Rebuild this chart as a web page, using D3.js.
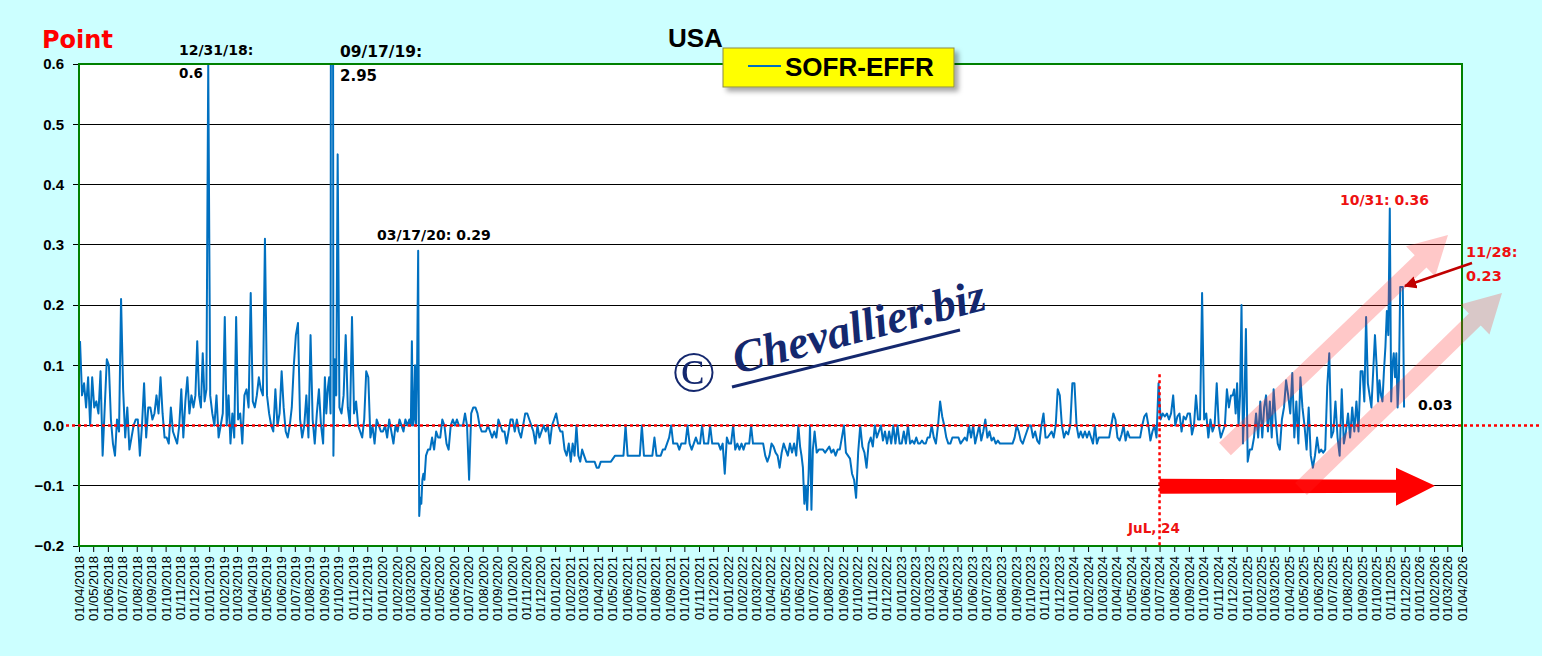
<!DOCTYPE html>
<html><head><meta charset="utf-8">
<script src="https://cdn.jsdelivr.net/npm/d3@7"></script>
<style>html,body{margin:0;padding:0;background:#ccffff;}svg{display:block}</style>
</head><body>
<svg id="c" width="1542" height="656"></svg>
<script>
// ---------------- DATA ----------------
const seriesName = "SOFR-EFFR";
const chartTitle = "USA";
const yUnit = "Point";
const yTicks = [-0.2, -0.1, 0.0, 0.1, 0.2, 0.3, 0.4, 0.5, 0.6];
const xStart = "2018-04-01", xEnd = "2026-04-01";   // monthly tick labels 01/04/2018 ... 01/04/2026
const markerDate = "2024-07-01";
// SOFR-EFFR readings (points), samples spread through each month
const sofrEffrByMonth = [
["2018-04",[0.14,0.05,0.07,0.03,0.08,0.00,0.08]],
["2018-05",[0.03,0.04,0.02,0.09,-0.05,0.03,0.11]],
["2018-06",[0.10,0.01,-0.03,-0.05,0.01,-0.01,0.21]],
["2018-07",[0.06,-0.02,0.03,-0.04,-0.02,0.0,0.01]],
["2018-08",[0.01,-0.05,0.0,0.07,-0.02,0.03,0.03]],
["2018-09",[0.01,0.02,0.05,0.02,0.08,0.02,-0.02]],
["2018-10",[-0.02,-0.03,0.03,-0.01,-0.02,-0.03,0.0]],
["2018-11",[0.06,-0.02,0.04,0.08,0.02,0.05,0.03]],
["2018-12",[0.05,0.14,0.05,0.03,0.12,0.04,0.06,0.6]],
["2019-01",[0.05,0.02,0.0,0.05,-0.02,0.0,0.02]],
["2019-02",[0.18,0.0,0.05,-0.03,0.02,-0.02,0.18]],
["2019-03",[0.01,0.02,-0.03,0.05,0.06,0.03,0.22]],
["2019-04",[0.04,0.03,0.05,0.08,0.06,0.05,0.31]],
["2019-05",[0.05,0.02,0.0,-0.01,0.06,0.0,0.02]],
["2019-06",[0.09,0.03,-0.01,-0.02,0.0,0.03,0.10]],
["2019-07",[0.15,0.17,0.01,-0.02,0.0,0.05,-0.02]],
["2019-08",[0.15,0.01,-0.03,0.02,0.06,0.0,-0.03]],
["2019-09",[0.08,0.02,0.06,0.08,0.02,2.95,-0.05,0.11,0.05,0.45]],
["2019-10",[0.03,0.02,0.05,0.15,0.03,0.0,0.18]],
["2019-11",[0.02,0.04,0.0,-0.01,-0.02,0.01,0.09]],
["2019-12",[0.08,-0.02,0.0,-0.03,0.01,0.0,-0.01]],
["2020-01",[-0.01,0.0,-0.02,0.01,-0.01,-0.03,0.0]],
["2020-02",[-0.01,0.01,0.0,-0.01,0.01,0.0,0.01]],
["2020-03",[0.0,0.14,0.0,0.01,0.1,0.0,0.1,0.29,-0.15,-0.12,-0.13,-0.09,-0.08,-0.09]],
["2020-04",[-0.05,-0.04,-0.04,-0.02,-0.04,-0.01,-0.02]],
["2020-05",[-0.02,0.01,0.0,-0.03,-0.04,0.0,0.01]],
["2020-06",[0.0,0.01,0.0,0.0,0.0,0.02,0.0]],
["2020-07",[-0.09,0.02,0.03,0.03,0.02,0.0,-0.01]],
["2020-08",[-0.01,-0.01,0.0,-0.01,-0.02,-0.01,-0.02]],
["2020-09",[0.01,0.0,-0.01,-0.01,-0.03,-0.01,0.01]],
["2020-10",[0.01,-0.01,0.01,-0.01,-0.02,0.0,0.02]],
["2020-11",[0.02,0.01,0.0,-0.01,-0.03,0.0,-0.02]],
["2020-12",[-0.01,0.0,-0.01,0.0,-0.03,0.0,0.01]],
["2021-01",[0.02,0.0,-0.01,-0.01,-0.04,-0.05,-0.03]],
["2021-02",[-0.06,-0.03,-0.05,0.0,-0.05,-0.06,-0.04]],
["2021-03",[-0.05,-0.06,-0.06,-0.06,-0.06,-0.06,-0.07]],
["2021-04",[-0.07,-0.06,-0.06,-0.06,-0.06,-0.06,-0.06]],
["2021-05",[-0.055,-0.05,-0.05,-0.05,-0.05,-0.05,0.0]],
["2021-06",[-0.05,-0.05,-0.05,-0.05,-0.05,-0.05,-0.05]],
["2021-07",[0.0,-0.05,-0.05,-0.05,-0.05,-0.05,-0.02]],
["2021-08",[-0.05,-0.05,-0.05,-0.04,-0.04,-0.03,-0.02]],
["2021-09",[0.0,-0.03,-0.03,-0.03,-0.04,-0.03,-0.03]],
["2021-10",[-0.03,0.0,-0.03,-0.04,-0.03,-0.02,-0.03]],
["2021-11",[-0.03,0.0,-0.03,-0.03,-0.03,0.0,-0.03]],
["2021-12",[-0.03,-0.03,-0.03,-0.04,-0.03,-0.08,-0.02]],
["2022-01",[-0.03,-0.03,0.0,-0.04,-0.03,-0.04,-0.03]],
["2022-02",[-0.04,-0.03,-0.03,-0.03,0.0,-0.03,-0.03]],
["2022-03",[-0.03,-0.03,-0.03,-0.03,-0.05,-0.06,-0.05]],
["2022-04",[-0.03,-0.035,-0.045,-0.05,-0.07,-0.045,-0.03]],
["2022-05",[-0.04,-0.05,-0.03,-0.045,-0.03,-0.05,0.0]],
["2022-06",[-0.035,-0.05,-0.07,-0.13,-0.10,-0.14,-0.08,0.0,-0.14,-0.04]],
["2022-07",[-0.01,-0.045,-0.04,-0.04,-0.04,-0.045,-0.04]],
["2022-08",[-0.035,-0.045,-0.04,-0.05,-0.04,-0.04,-0.02]],
["2022-09",[0.0,-0.045,-0.05,-0.055,-0.08,-0.09,-0.12]],
["2022-10",[-0.045,0.0,-0.035,-0.045,-0.07,-0.03,-0.02]],
["2022-11",[-0.035,0.0,-0.02,-0.01,0.0,-0.025,-0.01]],
["2022-12",[-0.03,-0.01,-0.03,0.0,-0.03,0.0,-0.03]],
["2023-01",[-0.03,-0.01,-0.03,0.0,-0.03,-0.025,-0.03]],
["2023-02",[-0.02,-0.03,-0.03,-0.025,-0.03,-0.03,-0.02]],
["2023-03",[-0.02,0.0,-0.02,-0.03,0.0,0.04,0.015]],
["2023-04",[0.0,-0.02,-0.03,-0.03,-0.02,-0.02,-0.02]],
["2023-05",[-0.02,-0.03,-0.025,-0.02,-0.025,0.0,-0.02]],
["2023-06",[0.0,-0.03,-0.015,0.0,-0.025,-0.01,0.01]],
["2023-07",[-0.02,-0.01,-0.025,-0.02,-0.03,-0.025,-0.03]],
["2023-08",[-0.03,-0.03,-0.03,-0.03,-0.03,-0.03,-0.02]],
["2023-09",[0.0,-0.01,-0.025,-0.03,-0.02,-0.01,0.0]],
["2023-10",[0.0,-0.02,-0.01,-0.025,-0.03,0.0,0.02]],
["2023-11",[-0.02,-0.02,-0.015,-0.01,-0.02,0.0,0.06]],
["2023-12",[0.05,0.0,-0.02,-0.01,-0.015,0.0,0.07]],
["2024-01",[0.07,0.0,-0.02,-0.01,-0.02,-0.01,-0.02]],
["2024-02",[-0.01,-0.02,-0.03,0.0,-0.03,-0.02,-0.02]],
["2024-03",[-0.02,-0.02,-0.02,-0.02,0.0,0.02,0.01]],
["2024-04",[-0.02,-0.025,-0.015,0.0,-0.025,-0.01,-0.02]],
["2024-05",[-0.02,-0.02,-0.02,-0.02,-0.02,0.0,0.015]],
["2024-06",[0.02,0.0,-0.025,-0.01,0.0,-0.02,0.07]],
["2024-07",[0.01,0.02,0.015,0.02,0.01,0.02,0.05]],
["2024-08",[0.0,0.015,0.02,-0.01,0.015,0.01,0.02]],
["2024-09",[0.02,-0.015,0.0,0.05,0.01,0.01,0.22]],
["2024-10",[0.01,0.02,-0.02,0.01,-0.01,0.0,0.07]],
["2024-11",[0.0,-0.02,-0.01,0.0,0.06,0.03,0.05]],
["2024-12",[0.05,0.06,0.02,0.07,0.0,0.05,0.2,-0.03,0.04,0.16]],
["2025-01",[-0.06,-0.04,-0.04,-0.02,0.02,-0.02,0.04]],
["2025-02",[-0.02,0.03,0.05,-0.01,0.04,-0.02,0.06]],
["2025-03",[0.01,-0.03,-0.04,0.01,0.03,0.075,0.05]],
["2025-04",[0.02,0.087,-0.02,0.04,-0.03,0.08,0.03]],
["2025-05",[0.0,-0.04,0.03,-0.05,-0.07,-0.05,-0.02]],
["2025-06",[-0.045,-0.04,-0.045,-0.04,0.065,0.12,-0.02]],
["2025-07",[-0.01,0.04,-0.02,-0.05,0.06,-0.03,-0.01]],
["2025-08",[0.02,-0.02,0.03,-0.01,0.04,-0.01,0.09]],
["2025-09",[0.09,0.04,0.18,0.07,0.05,0.03,0.09,0.15]],
["2025-10",[0.1,0.04,0.075,0.05,0.04,0.09,0.13,0.19,0.15,0.36]],
["2025-11",[0.04,0.1,0.12,0.08,0.12,0.03,0.08,0.23,0.23,0.23,0.03]]
];
// annotations
const notes = [
  {t:"12/31/18:", d:"2018-12-31", v:0.6},
  {t:"09/17/19:", d:"2019-09-17", v:2.95},
  {t:"03/17/20: 0.29", d:"2020-03-17", v:0.29},
  {t:"10/31: 0.36", d:"2025-10-31", v:0.36},
  {t:"11/28:", d:"2025-11-28", v:0.23},
  {t:"0.03", d:"2025-12-02", v:0.03}
];

// ---------------- CHART ----------------
const svg = d3.select("#c");
const W = 1542, H = 656;
const M = {l:79, t:64, r:1462, b:546};
const parse = d3.utcParse("%Y-%m-%d");
const x = d3.scaleUtc().domain([parse(xStart), parse(xEnd)]).range([M.l, M.r]);
const y = d3.scaleLinear().domain([-0.2, 0.6]).range([M.b, M.t]);

const series = [];
sofrEffrByMonth.forEach(([ym, vals]) => {
  const [yy, mm] = ym.split("-").map(Number);
  const s = Date.UTC(yy, mm-1, 1), e = Date.UTC(yy, mm, 1);
  vals.forEach((v, i) => series.push({d: new Date(s + (i + 0.5) / vals.length * (e - s)), v}));
});

const defs = svg.append("defs");
defs.append("clipPath").attr("id","plotclip").append("rect")
  .attr("x", M.l).attr("y", M.t).attr("width", M.r - M.l).attr("height", M.b - M.t);
const f = defs.append("filter").attr("id","shadow").attr("x","-10%").attr("y","-30%").attr("width","130%").attr("height","180%");
f.append("feDropShadow").attr("dx",4).attr("dy",4).attr("stdDeviation",2.5).attr("flood-color","#000").attr("flood-opacity",0.35);
defs.append("marker").attr("id","ah").attr("viewBox","0 0 10 10").attr("refX",9).attr("refY",5)
  .attr("markerWidth",5).attr("markerHeight",5).attr("orient","auto-start-reverse").attr("markerUnits","strokeWidth")
  .append("path").attr("d","M0,0L10,5L0,10z").attr("fill","#c00000");

svg.append("rect").attr("width",W).attr("height",H).attr("fill","#ccffff");
svg.append("rect").attr("x",M.l).attr("y",M.t).attr("width",M.r-M.l).attr("height",M.b-M.t).attr("fill","#fff");

// gridlines
svg.append("g").selectAll("line").data(yTicks.filter(v => v > -0.2 && v < 0.6)).join("line")
  .attr("x1", M.l).attr("x2", M.r).attr("y1", d => y(d)).attr("y2", d => y(d))
  .attr("stroke","#000").attr("stroke-width",1).attr("shape-rendering","crispEdges");

// y axis labels + ticks
const ya = svg.append("g");
ya.selectAll("line").data(yTicks).join("line")
  .attr("x1", M.l-6).attr("x2", M.l).attr("y1", d => y(d)).attr("y2", d => y(d))
  .attr("stroke","#000").attr("shape-rendering","crispEdges");
ya.selectAll("text").data(yTicks).join("text")
  .attr("x", 64).attr("y", d => y(d)).attr("dy","0.36em").attr("text-anchor","end")
  .attr("font-family","'Liberation Sans', Arial, sans-serif").attr("font-weight","bold").attr("font-size",15)
  .text(d => d3.format(".1f")(d));

// x axis
const xTickDates = d3.utcMonth.range(parse(xStart), d3.utcDay.offset(parse(xEnd), 1));
const xa = svg.append("g").attr("transform",`translate(0,${M.b})`)
  .call(d3.axisBottom(x).tickValues(xTickDates).tickFormat(d3.utcFormat("%d/%m/%Y")).tickSize(6).tickSizeOuter(0));
xa.select(".domain").remove();
xa.selectAll(".tick line").attr("stroke","#000");
xa.selectAll(".tick text")
  .attr("transform","rotate(-90)").attr("x",-10).attr("y",0).attr("dy","0.34em").attr("text-anchor","end")
  .attr("font-family","'Liberation Sans', Arial, sans-serif").attr("font-size",13).attr("fill","#000");

// line
const line = d3.line().x(d => x(d.d)).y(d => y(d.v));
svg.append("path").datum(series).attr("clip-path","url(#plotclip)")
  .attr("d", line).attr("fill","none").attr("stroke","#0070c0").attr("stroke-width",2).attr("stroke-linejoin","round");

// plot border
svg.append("rect").attr("x",M.l).attr("y",M.t).attr("width",M.r-M.l).attr("height",M.b-M.t)
  .attr("fill","none").attr("stroke","#008000").attr("stroke-width",2);

// red dotted zero line & July 2024 marker
svg.append("line").attr("x1",66).attr("x2",W).attr("y1",y(0)).attr("y2",y(0))
  .attr("stroke","#ff0000").attr("stroke-width",2.5).attr("stroke-dasharray","3,3");
const xm = x(parse(markerDate));
svg.append("line").attr("x1",xm).attr("x2",xm).attr("y1",y(0.085)).attr("y2",M.b)
  .attr("stroke","#ff0000").attr("stroke-width",2.5).attr("stroke-dasharray","3,3");

// big red arrow
const yc = y(-0.1);
const tipX = 1435;
svg.append("path").attr("fill","#ff0000")
  .attr("d",`M${xm},${yc-7}L${tipX-39},${yc-6}L${tipX-39},${yc-18}L${tipX},${yc}L${tipX-39},${yc+20}L${tipX-39},${yc+7}L${xm},${yc+8}Z`);

// pink transparent arrows
function fatArrow(x0,y0,x1,y1){
  const L = Math.hypot(x1-x0,y1-y0), a = Math.atan2(y1-y0,x1-x0)*180/Math.PI;
  const sw = 8.5, hw = 21, hl = 38;
  svg.append("path").attr("fill","rgba(255,35,35,0.25)")
    .attr("transform",`translate(${x0},${y0}) rotate(${a})`)
    .attr("d",`M0,${-sw}L${L-hl},${-sw}L${L-hl},${-hw}L${L},0L${L-hl},${hw}L${L-hl},${sw}L0,${sw}Z`);
}
fatArrow(1225,449,1448,235);
fatArrow(1301,489,1502,293);

// watermark
const wm = svg.append("g").attr("fill","#14286e");
wm.append("text").attr("x",693).attr("y",391).attr("text-anchor","middle")
  .attr("font-family","'Liberation Serif','DejaVu Serif',serif").attr("font-style","italic").attr("font-size",58).text("©");
wm.append("text").attr("transform","translate(737,374) rotate(-14.5)")
  .attr("font-family","'Liberation Serif','DejaVu Serif',serif").attr("font-style","italic").attr("font-weight","bold").attr("font-size",46)
  .text("Chevallier.biz");
svg.append("line").attr("x1",732).attr("y1",387).attr("x2",960).attr("y2",330).attr("stroke","#14286e").attr("stroke-width",3);

// texts
const sans = "'DejaVu Sans', Verdana, sans-serif";
function txt(t, xx, yy, size, color, anchor){
  return svg.append("text").attr("x",xx).attr("y",yy).attr("font-family",sans).attr("font-weight","bold")
    .attr("font-size",size).attr("fill",color||"#000").attr("text-anchor",anchor||"start").text(t);
}
txt(yUnit, 42, 48, 24, "#ff0000");
svg.append("text").attr("x",668).attr("y",47).attr("font-family","'Liberation Sans', Arial, sans-serif")
  .attr("font-weight","bold").attr("font-size",26).text(chartTitle);

txt(notes[0].t, 179, 54.5, 14);
txt(d3.format(".1f")(notes[0].v), 179, 78, 13.5);
txt(notes[1].t, 340, 57, 15.5);
txt(d3.format(".2f")(notes[1].v), 340, 81, 15);
txt(notes[2].t, 377, 240, 14);
txt(notes[3].t, 1340, 205, 14, "#ee1111");
txt(notes[4].t, 1466, 257, 14.5, "#ee1111");
txt(d3.format(".2f")(notes[4].v), 1466, 281, 14.5, "#ee1111");
txt(notes[5].t, 1418, 410, 14);
txt("JuL, 24", 1128, 533, 13.5, "#ee1111");

// dark red pointer
svg.append("line").attr("x1",1472).attr("y1",263).attr("x2",1405).attr("y2",286)
  .attr("stroke","#c00000").attr("stroke-width",2.5).attr("marker-end","url(#ah)");

// legend
const lg = svg.append("g");
lg.append("rect").attr("x",723).attr("y",48).attr("width",231).attr("height",39)
  .attr("fill","#ffff00").attr("stroke","#8c8c46").attr("stroke-width",1).attr("filter","url(#shadow)");
lg.append("line").attr("x1",748).attr("x2",781).attr("y1",66).attr("y2",66).attr("stroke","#0070c0").attr("stroke-width",2);
lg.append("text").attr("x",785).attr("y",76).attr("font-family","'Liberation Sans', Arial, sans-serif")
  .attr("font-weight","bold").attr("font-size",26).text(seriesName);
</script>
</body></html>
